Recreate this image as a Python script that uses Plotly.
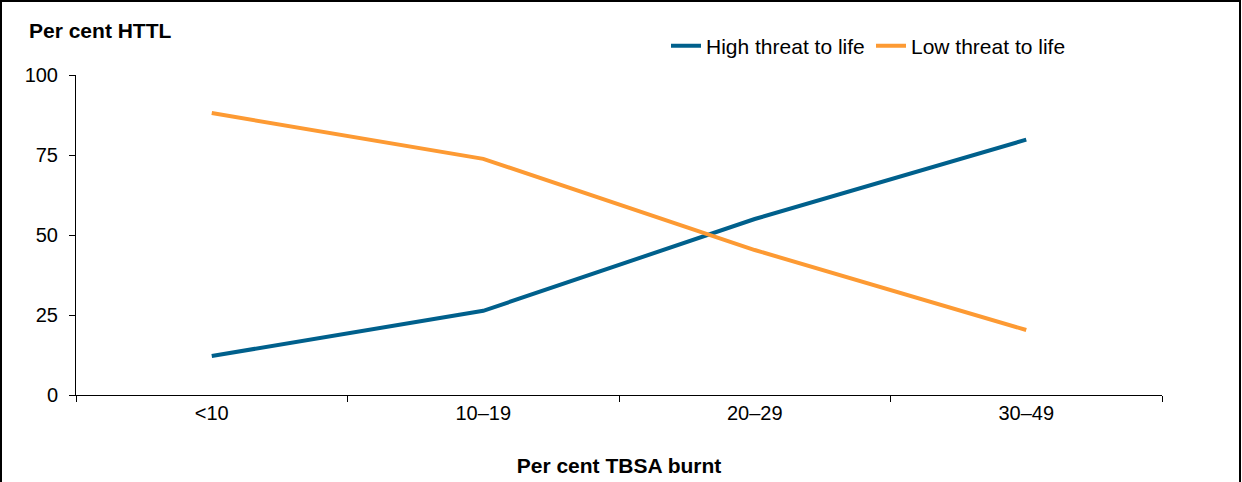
import plotly.graph_objects as go

categories = ["<10", "10–19", "20–29", "30–49"]
high_threat = [12.2, 26.3, 55.0, 79.8]
low_threat = [88.1, 73.8, 45.3, 20.3]
y_ticks = [0, 25, 50, 75, 100]

W, H = 1242, 482
L, R, T, B = 76, 80, 75, 87
pw, ph = W - L - R, H - T - B

def px_x(x):
    return (x - L) / pw

def px_y(y):
    return (H - B - y) / ph

fig = go.Figure()
fig.add_trace(go.Scatter(x=categories, y=high_threat, mode="lines", name="High threat to life",
                         line=dict(color="#00608C", width=4)))
fig.add_trace(go.Scatter(x=categories, y=low_threat, mode="lines", name="Low threat to life",
                         line=dict(color="#FD9A33", width=4)))

font = "Liberation Sans, Arial, sans-serif"
fig.update_layout(
    width=W, height=H,
    margin=dict(l=L, r=R, t=T, b=B, autoexpand=False),
    plot_bgcolor="white", paper_bgcolor="white",
    font=dict(family=font, size=20, color="black"),
    showlegend=True,
    legend=dict(orientation="h", x=px_x(666), y=px_y(46), xanchor="left", yanchor="middle",
                font=dict(size=21), entrywidth=160, entrywidthmode="pixels",
                bgcolor="rgba(0,0,0,0)", itemwidth=30),
    xaxis=dict(type="category", range=[-0.5, 3.5], tickson="boundaries", ticks="outside", ticklen=6,
               tickcolor="black", showline=True, linecolor="black", linewidth=1,
               showgrid=False, zeroline=False, tickfont=dict(size=20),
               title=dict(text="<b>Per cent TBSA burnt</b>", font=dict(size=21), standoff=35)),
    yaxis=dict(range=[0, 100], tickvals=y_ticks, ticks="outside", ticklen=6, tickcolor="black",
               showline=True, linecolor="black", linewidth=1, showgrid=False, zeroline=False,
               tickfont=dict(size=20), ticklabelstandoff=7),
    annotations=[dict(text="<b>Per cent HTTL</b>", xref="paper", yref="paper",
                      x=px_x(27), y=px_y(30), xanchor="left", yanchor="middle",
                      showarrow=False, font=dict(size=21))],
    shapes=[dict(type="rect", xref="paper", yref="paper",
                 x0=px_x(1), x1=px_x(1240), y0=px_y(490), y1=px_y(1),
                 line=dict(color="black", width=2))],
)

fig.write_html("out.html", config={"displayModeBar": False},
               post_script="document.body.style.margin='0';document.body.style.padding='0';")
